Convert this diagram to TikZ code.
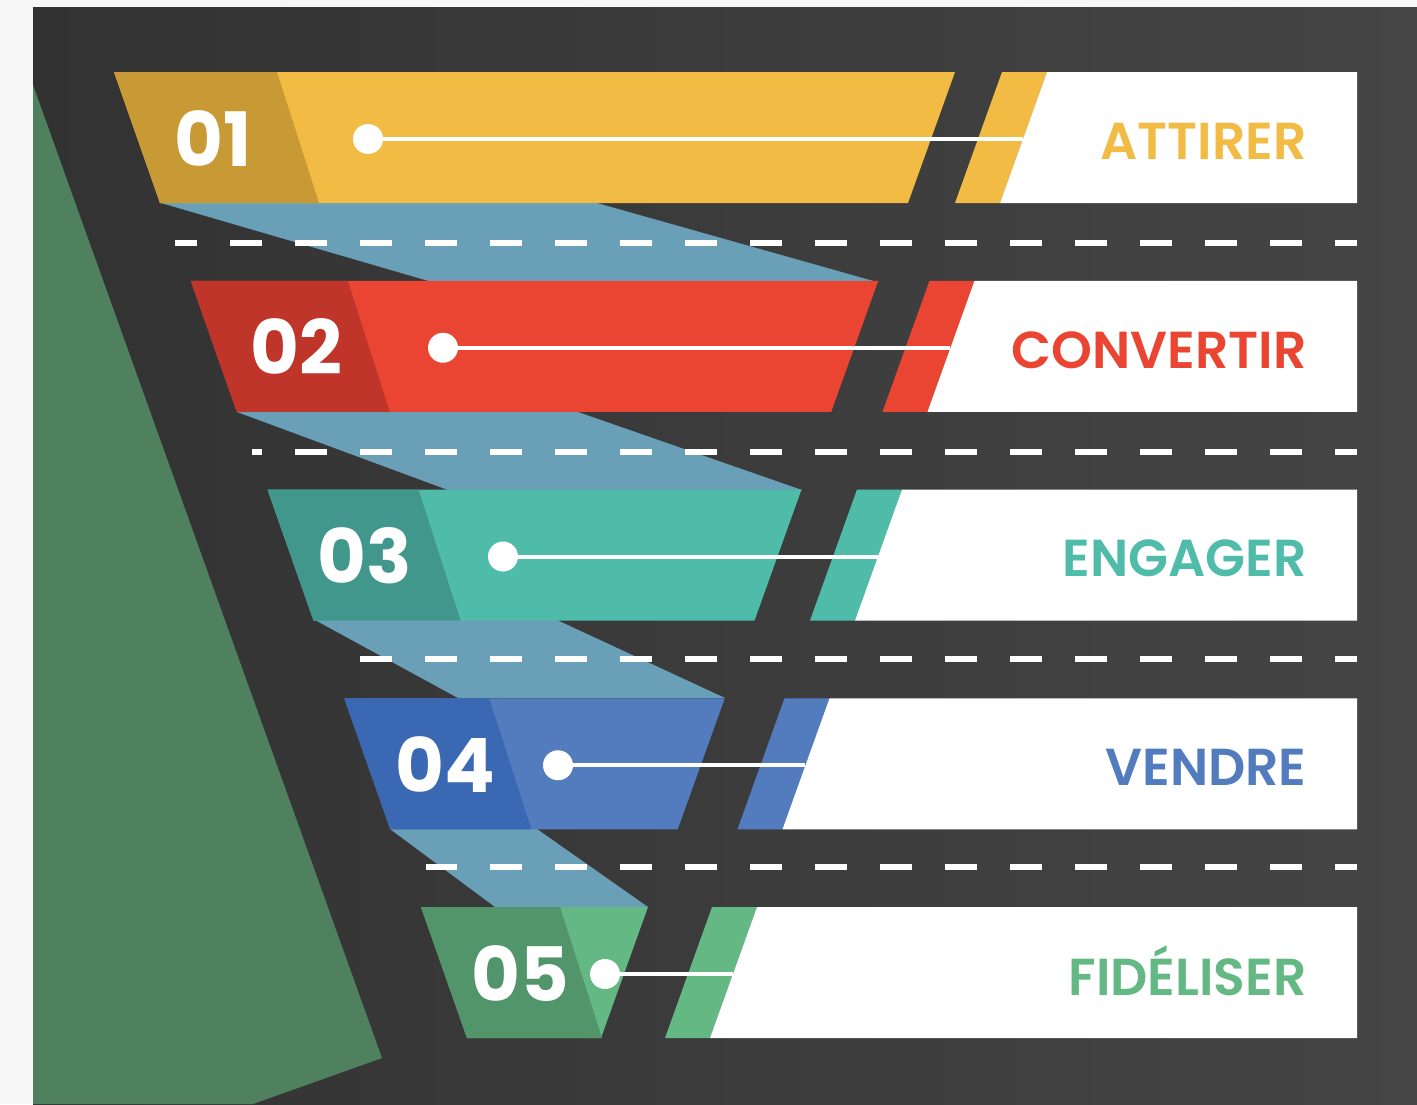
\documentclass[tikz,border=0pt]{standalone}
\usepackage{fontspec}
\setmainfont{Poppins}
\newfontfamily\lblfont{Poppins SemiBold}
\usetikzlibrary{positioning}

\definecolor{fond}{HTML}{F7F7F7}
\definecolor{sombre}{HTML}{323232}
\definecolor{sombreclair}{HTML}{454545}
\definecolor{vertfonce}{HTML}{50815F}
\definecolor{liaison}{HTML}{6A9FB8}
\definecolor{jaune}{HTML}{F2BB44}
\definecolor{jaunefonce}{HTML}{C89A35}
\definecolor{rouge}{HTML}{EA4533}
\definecolor{rougefonce}{HTML}{BF3529}
\definecolor{turquoise}{HTML}{4FBBA9}
\definecolor{turquoisefonce}{HTML}{41978B}
\definecolor{bleu}{HTML}{537CBF}
\definecolor{bleufonce}{HTML}{3A68B3}
\definecolor{vert}{HTML}{64B883}
\definecolor{vertmoyen}{HTML}{52956A}

\begin{document}
\begin{tikzpicture}[
    x=0.5pt, y=-0.5pt,
    num/.style={font=\bfseries\fontsize{37.5}{37.5}\selectfont, text=white, inner sep=0pt, anchor=base},
    etiquette/.style={font=\lblfont\fontsize{26}{26}\selectfont, inner sep=0pt, anchor=base east},
    point/.style={circle, fill=white, minimum size=15pt, inner sep=0pt},
    tiret/.style={draw=white, line width=3pt, dash pattern=on 16pt off 16.5pt},
    lien/.style={draw=white, line width=2pt}
]
\useasboundingbox (0,0) rectangle (1417,1104);

% Fond
\fill[fond] (0,0) rectangle (1417,1104);
\shade[left color=sombre, right color=sombreclair] (33,7) rectangle (1417,1104);
\fill[vertfonce] (33,85) -- (382,1058) -- (253,1104) -- (33,1104) -- cycle;

% Liaisons entre les étages
\foreach \a/\b/\c/\d/\yt/\yb in {161/597/877/432/203/282, 237/578/802/448/412/490,
    315/557/725/458/620/698, 390/537/648/495/829/907}
  \fill[liaison] (\a,\yt) -- (\b,\yt) -- (\c,\yb) -- (\d,\yb) -- cycle;

% Pointillés
\foreach \x/\y/\ph in {175/243/5, 252/452/11, 360/659/0, 426/867/0.5}
  \draw[tiret, dash phase=\ph pt] (\x,\y) -- (1357,\y);

% Étages de l'entonnoir
\foreach \i/\clair/\fonce in {0/jaune/jaunefonce, 1/rouge/rougefonce, 2/turquoise/turquoisefonce,
    3/bleu/bleufonce, 4/vert/vertmoyen} {
  \pgfmathsetmacro\yt{72+208.75*\i}
  \pgfmathsetmacro\yb{\yt+131}
  \pgfmathsetmacro\xl{114+76.75*\i}
  \pgfmathsetmacro\xd{277+70.75*\i}
  \pgfmathsetmacro\xr{955-76.75*\i}
  \pgfmathsetmacro\xs{1002-72.5*\i}
  \fill[\clair] (\xl,\yt) -- (\xr,\yt) -- ({\xr-47},\yb) -- ({\xl+46},\yb) -- cycle;
  \fill[\fonce] (\xl,\yt) -- (\xd,\yt) -- ({\xd+42},\yb) -- ({\xl+46},\yb) -- cycle;
  \fill[\clair] (\xs,\yt) -- ({\xs+45},\yt) -- ({\xs-2},\yb) -- ({\xs-47},\yb) -- cycle;
  \fill[white] ({\xs+45},\yt) -- (1357,\yt) -- (1357,\yb) -- ({\xs-2},\yb) -- cycle;
  \coordinate (bord\i) at ({\xs+45-47*67/131},{\yt+67});
}

% Numéros, points et libellés
\foreach \i/\nx/\px/\txt/\col in {0/213/368/01/jaune, 1/296/443/02/rouge, 2/365/503/03/turquoise,
    3/445/558/04/bleu, 4/520/605/05/vert} {
  \pgfmathsetmacro\ym{72+208.75*\i+67}
  \node[num] (n\i) at (\nx,{\ym+27}) {\txt};
  \node[point] (p\i) at (\px,\ym) {};
  \draw[lien] (p\i.center) -- (bord\i);
}
\node[etiquette, text=jaune] (e0) at (1307,159) {ATTIRER};
\node[etiquette, text=rouge] (e1) at (1307,368) {CONVERTIR};
\node[etiquette, text=turquoise] (e2) at (1307,576) {ENGAGER};
\node[etiquette, text=bleu] (e3) at (1307,785) {VENDRE};
\node[etiquette, text=vert] (e4) at (1307,995) {FIDÉLISER};

\end{tikzpicture}
\end{document}
